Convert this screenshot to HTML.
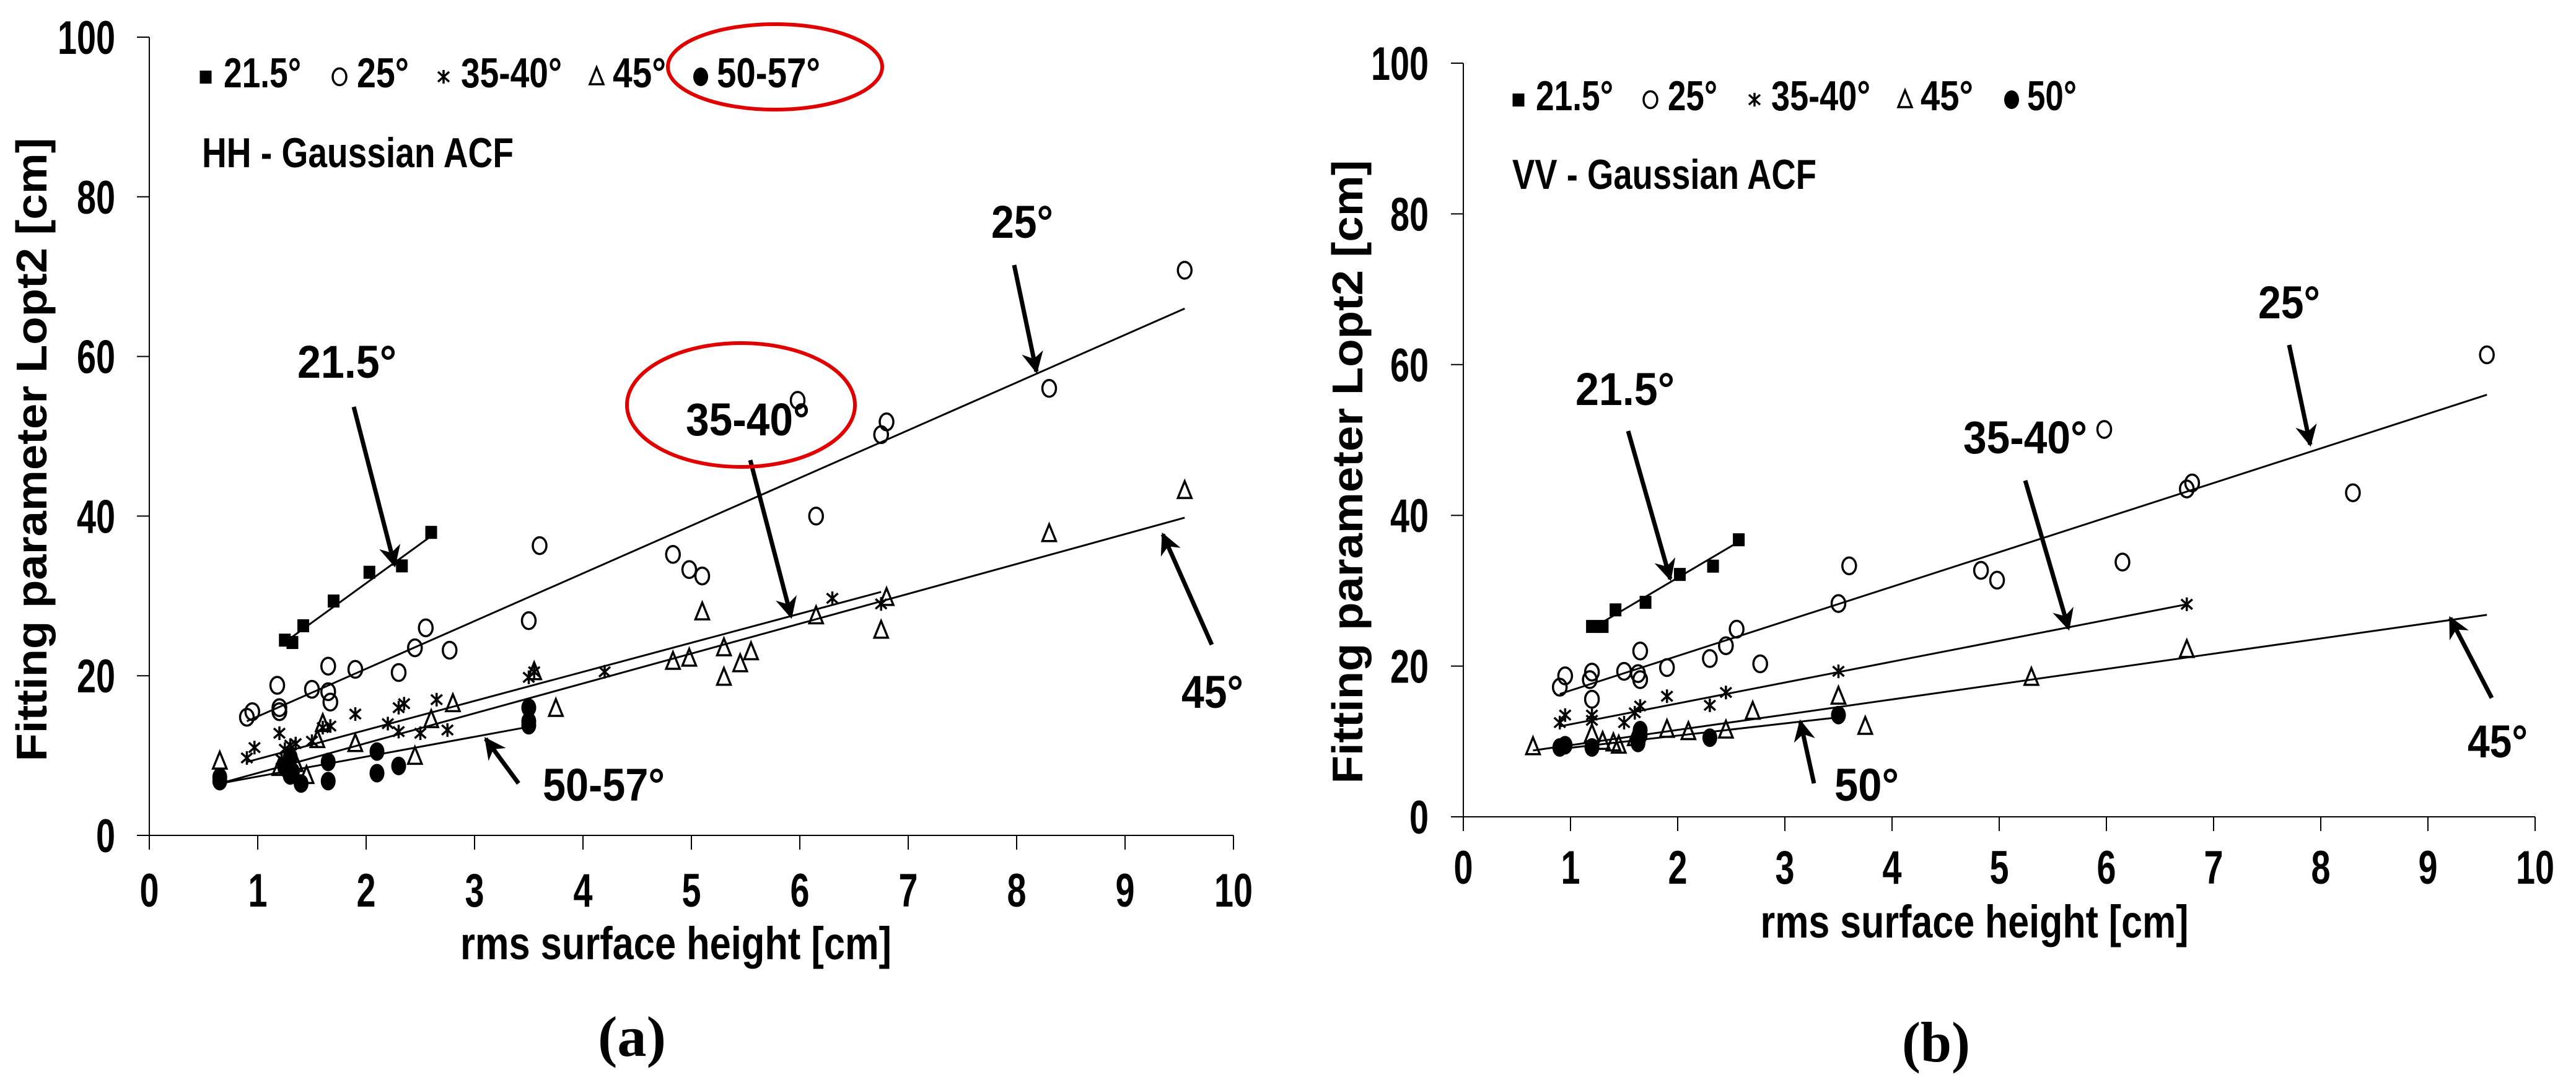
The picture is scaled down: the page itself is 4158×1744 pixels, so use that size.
<!DOCTYPE html>
<html><head><meta charset="utf-8"><style>
html,body{margin:0;padding:0;background:#fff;}
svg{display:block;font-family:"Liberation Sans",sans-serif;font-weight:bold;}
</style></head><body>
<svg id="fig" width="4158" height="1744" viewBox="0 0 4158 1744" xmlns="http://www.w3.org/2000/svg">
<defs>
<marker id="ah" viewBox="0 0 10 10" refX="9" refY="5" markerWidth="5" markerHeight="5" orient="auto" markerUnits="strokeWidth">
<path d="M0,0 L10,5 L0,10 L3,5 Z" fill="#000"/>
</marker>
</defs>
<g id="panelA"></g>
<g id="panelB"></g>
</svg>
<script>
// ---- Panel (a) HH data ----
const xTicks = [0,1,2,3,4,5,6,7,8,9,10];
const yTicks = [0,20,40,60,80,100];
const a215x = [1.25,1.32,1.42,1.7,2.03,2.33,2.6];
const a215y = [24.5,24.2,26.3,29.4,33,33.8,38];
const a25x = [0.9,0.95,1.18,1.2,1.2,1.5,1.65,1.65,1.67,1.9,2.3,2.45,2.55,2.77,3.5,3.6,4.83,4.98,5.1,5.98,6.15,6.75,6.8,8.3,9.55];
const a25y = [14.8,15.5,18.8,16,15.5,18.3,18,21.2,16.7,20.8,20.4,23.5,26,23.2,26.9,36.3,35.2,33.3,32.5,54.5,40,50.2,51.8,56,70.8];
const a35x = [0.9,0.97,1.2,1.25,1.3,1.35,1.5,1.6,1.67,1.9,2.2,2.3,2.35,2.3,2.5,2.65,2.75,3.5,3.55,4.2,6.3,6.75,1.28,1.33,1.22];
const a35y = [9.7,11,12.8,10.8,11.3,11.5,11.8,13.5,13.7,15.2,14,16,16.5,13,12.8,17,13.2,19.8,20.5,20.5,29.7,29,8,7.5,9.5];
const a45x = [0.65,1.2,1.35,1.45,1.55,1.6,1.9,2.45,2.6,2.8,3.55,3.75,4.83,4.98,5.1,5.3,5.3,5.45,5.55,6.15,6.75,6.8,8.3,9.55];
const a45y = [9.3,8.5,9,7.5,12,14,11.5,9.9,14.5,16.5,20.5,15.9,21.8,22.2,28,19.8,23.5,21.5,23,27.5,25.7,29.8,37.8,43.2];
const a50x = [0.65,0.65,1.25,1.3,1.3,1.4,1.65,1.65,2.1,2.1,2.3,3.5,3.5,3.5,1.28,1.32];
const a50y = [6.8,7.3,8.5,9.8,7.5,6.5,9.2,6.8,10.5,7.8,8.7,16,13.8,14.3,9,8];
const aTrend215 = [1.25,24.2,2.6,37.5];
const aTrend25 = [0.9,14.3,9.55,66];
const aTrend35 = [0.9,9.2,6.75,30.5];
const aTrend45 = [0.65,6.5,9.55,39.8];
const aTrend50 = [0.65,6.5,3.5,13.6];
// ---- Panel (b) VV data ----
const b215x = [1.2,1.3,1.42,1.7,2.02,2.33,2.57];
const b215y = [25.3,25.3,27.5,28.5,32.2,33.3,36.8];
const b25x = [0.9,0.95,1.18,1.2,1.2,1.5,1.63,1.65,1.65,1.9,2.3,2.45,2.55,2.77,3.5,3.6,4.83,4.98,5.98,6.15,6.75,6.8,8.3,9.55];
const b25y = [17.2,18.7,18.2,19.2,15.6,19.3,19,18.2,22,19.8,21,22.7,24.9,20.3,28.3,33.3,32.7,31.4,51.4,33.8,43.5,44.3,43,61.3];
const b35x = [0.9,0.95,1.2,1.2,1.5,1.6,1.65,1.9,2.3,2.45,3.5,6.75];
const b35y = [12.5,13.5,13.5,12.8,12.5,13.8,14.7,16,14.8,16.5,19.3,28.2];
const b45x = [0.65,1.2,1.3,1.4,1.45,1.6,1.9,2.1,2.45,2.7,3.5,3.75,5.3,6.75];
const b45y = [9.3,11,10,9.8,9.5,10.5,11.6,11.3,11.5,14,16,12,18.5,22.2];
const b50x = [0.9,0.95,1.2,1.63,1.65,1.65,2.3,3.5];
const b50y = [9.2,9.5,9.2,9.8,10.8,11.5,10.5,13.5];
const bTrend215 = [1.2,25,2.57,36.5];
const bTrend25 = [0.9,16.3,9.55,56];
const bTrend35 = [0.9,12,6.75,28.2];
const bTrend45 = [0.65,8.8,9.55,26.8];
const bTrend50 = [0.9,9,3.5,13.2];

const NS = 'http://www.w3.org/2000/svg';
function mk(parent, tag, attrs, name){
  const e = document.createElementNS(NS, tag);
  for (const k in attrs) e.setAttribute(k, attrs[k]);
  
  
  parent.appendChild(e);
  return e;
}
function txt(parent, x, y, s, size, len, name, anchor, extra){
  const t = mk(parent, 'text', Object.assign({x:x, y:y, 'font-size':size, 'text-anchor':anchor||'start'}, extra||{}), name);
  if (len) { t.setAttribute('textLength', len); t.setAttribute('lengthAdjust', 'spacingAndGlyphs'); }
  t.textContent = s;
  return t;
}
function marker(g, type, cx, cy, name){
  if (type==='sq') return mk(g,'rect',{x:cx-9.5,y:cy-10,width:19,height:21,fill:'#000'},name);
  if (type==='o') return mk(g,'ellipse',{cx:cx,cy:cy,rx:11,ry:13.5,fill:'none',stroke:'#000','stroke-width':3.5},name);
  if (type==='dot') return mk(g,'ellipse',{cx:cx,cy:cy,rx:12,ry:15,fill:'#000'},name);
  if (type==='tri') return mk(g,'path',{d:`M${cx},${cy-15} L${cx+11},${cy+12} L${cx-11},${cy+12} Z`,fill:'none',stroke:'#000','stroke-width':3.5,'stroke-linejoin':'miter'},name);
  if (type==='star') return mk(g,'path',{d:`M${cx},${cy-11} L${cx},${cy+11} M${cx-9},${cy-8} L${cx+9},${cy+8} M${cx+9},${cy-8} L${cx-9},${cy+8}`,stroke:'#000','stroke-width':3.5,fill:'none'},name);
}
function panel(g, P){
  const X = v => P.x0 + v*P.ux, Y = v => P.y0 - v*P.uy;
  // axes
  mk(g,'line',{x1:X(0),y1:Y(100),x2:X(0),y2:Y(0)+23,stroke:'#000','stroke-width':2},'y-axis');
  mk(g,'line',{x1:X(0)-20,y1:Y(0),x2:X(10),y2:Y(0),stroke:'#000','stroke-width':2},'x-axis');
  yTicks.forEach(v=>{
    mk(g,'line',{x1:X(0)-20,y1:Y(v),x2:X(0),y2:Y(v),stroke:'#000','stroke-width':2},'y-tick');
    const s=String(v);
    txt(g, P.yLabRight, Y(v)+27, s, 76, s.length*31, 'y-tick-label','end');
  });
  xTicks.forEach(v=>{
    mk(g,'line',{x1:X(v),y1:Y(0),x2:X(v),y2:Y(0)+23,stroke:'#000','stroke-width':2},'x-tick');
    const s=String(v);
    txt(g, X(v), P.xLabBase, s, 76, s.length*31, 'x-tick-label','middle');
  });
  // trend lines
  P.trends.forEach(t=>{
    mk(g,'line',{x1:X(t[0]),y1:Y(t[1]),x2:X(t[2]),y2:Y(t[3]),stroke:'#000','stroke-width':3},'trend-line');
  });
  // series
  P.series.forEach(s=>{
    s.x.forEach((xv,i)=>marker(g, s.type, X(xv), Y(s.y[i]), s.name));
  });
  // legend
  P.legend.forEach(l=>{
    marker(g, l.type, l.mx, P.legY-17, 'legend-marker');
    txt(g, l.tx, P.legY, l.label, 68, l.w, 'legend-entry');
  });
  txt(g, P.legX, P.subY, P.sub, 68, P.subW, 'chart-subtitle');
  // annotations
  P.ann.forEach(a=>{
    txt(g, a.tx, a.ty, a.label, 74, a.tw, 'annotation-label');
    mk(g,'line',{x1:a.ax1,y1:a.ay1,x2:a.ax2,y2:a.ay2,stroke:'#000','stroke-width':7,'marker-end':'url(#ah)'},'annotation-arrow');
  });
  txt(g, P.xtX, P.xtY, 'rms surface height [cm]', 74, P.xtW, 'x-axis-title','middle');
  txt(g, 0, 0, 'Fitting parameter Lopt2 [cm]', 70, 1007, 'y-axis-title','middle', {transform:`translate(${P.ytX},${P.ytY}) rotate(-90)`});
  const cap = txt(g, P.capX, P.capY, P.cap, 92, 110, 'panel-caption','middle');
  cap.setAttribute('font-family','Liberation Serif, serif');
}
const gA = document.getElementById('panelA');
panel(gA, {
  x0:241, ux:175, y0:1349, uy:12.89, yLabRight:186, xLabBase:1464,
  trends:[aTrend215,aTrend25,aTrend35,aTrend45,aTrend50],
  series:[{x:a215x,y:a215y,type:'sq',name:'point-21-5'},{x:a25x,y:a25y,type:'o',name:'point-25'},{x:a35x,y:a35y,type:'star',name:'point-35-40'},{x:a45x,y:a45y,type:'tri',name:'point-45'},{x:a50x,y:a50y,type:'dot',name:'point-50-57'}],
  legY:141, legX:326,
  legend:[{type:'sq',mx:332,tx:361,label:'21.5°',w:125},{type:'o',mx:548,tx:576,label:'25°',w:84},{type:'star',mx:716,tx:744,label:'35-40°',w:163},{type:'tri',mx:963,tx:989,label:'45°',w:86},{type:'dot',mx:1131,tx:1157,label:'50-57°',w:167}],
  sub:'HH - Gaussian ACF', subY:270, subW:503,
  ann:[{label:'25°',tx:1600,ty:384,tw:100,ax1:1637,ay1:428,ax2:1673,ay2:600},
       {label:'21.5°',tx:480,ty:610,tw:160,ax1:571,ay1:657,ax2:637,ay2:913},
       {label:'35-40°',tx:1107,ty:703,tw:200,ax1:1211,ay1:743,ax2:1277,ay2:996},
       {label:'45°',tx:1907,ty:1143,tw:100,ax1:1956,ay1:1041,ax2:1877,ay2:863},
       {label:'50-57°',tx:876,ty:1293,tw:197,ax1:837,ay1:1265,ax2:784,ay2:1193}],
  xtX:1091, xtY:1549, xtW:696, ytX:75, ytY:726, cap:'(a)', capX:1020, capY:1705
});
mk(gA,'ellipse',{cx:1251,cy:108,rx:173,ry:69,fill:'none',stroke:'#e00000','stroke-width':6},'highlight-ellipse-legend');
mk(gA,'ellipse',{cx:1196,cy:654,rx:184,ry:100,fill:'none',stroke:'#e00000','stroke-width':6},'highlight-ellipse-35-40');
const gB = document.getElementById('panelB');
panel(gB, {
  x0:2362, ux:173, y0:1319, uy:12.17, yLabRight:2306, xLabBase:1427,
  trends:[bTrend215,bTrend25,bTrend35,bTrend45,bTrend50],
  series:[{x:b215x,y:b215y,type:'sq',name:'point-21-5'},{x:b25x,y:b25y,type:'o',name:'point-25'},{x:b35x,y:b35y,type:'star',name:'point-35-40'},{x:b45x,y:b45y,type:'tri',name:'point-45'},{x:b50x,y:b50y,type:'dot',name:'point-50'}],
  legY:178, legX:2441,
  legend:[{type:'sq',mx:2451,tx:2479,label:'21.5°',w:125},{type:'o',mx:2664,tx:2692,label:'25°',w:80},{type:'star',mx:2832,tx:2859,label:'35-40°',w:160},{type:'tri',mx:3075,tx:3100,label:'45°',w:85},{type:'dot',mx:3247,tx:3272,label:'50°',w:80}],
  sub:'VV - Gaussian ACF', subY:305, subW:491,
  ann:[{label:'25°',tx:3645,ty:514,tw:100,ax1:3695,ay1:557,ax2:3729,ay2:718},
       {label:'21.5°',tx:2543,ty:654,tw:160,ax1:2628,ay1:696,ax2:2696,ay2:935},
       {label:'35-40°',tx:3169,ty:732,tw:200,ax1:3269,ay1:776,ax2:3339,ay2:1015},
       {label:'45°',tx:3983,ty:1223,tw:97,ax1:4022,ay1:1127,ax2:3955,ay2:998},
       {label:'50°',tx:2961,ty:1293,tw:104,ax1:2928,ay1:1265,ax2:2906,ay2:1165}],
  xtX:3187, xtY:1514, xtW:691, ytX:2199, ytY:762, cap:'(b)', capX:3125, capY:1714
});
</script>
</body></html>
